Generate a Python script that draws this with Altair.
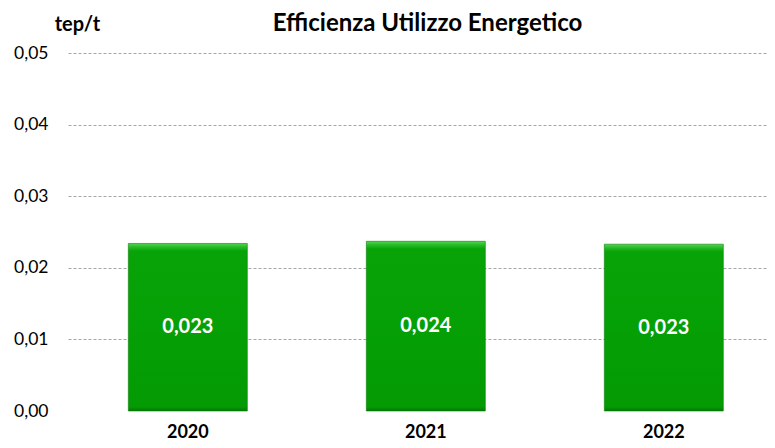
import altair as alt
import pandas as pd

years = ["2020", "2021", "2022"]
values = [0.0234, 0.0237, 0.0233]
y_ticks = [0.0, 0.01, 0.02, 0.03, 0.04, 0.05]

df = pd.DataFrame({"anno": years, "valore": values})

FONT = "Lato"

green = alt.Gradient(
    gradient="linear",
    x1=0, x2=0, y1=0, y2=1,
    stops=[
        alt.GradientStop(color="#4fd64f", offset=0.0),
        alt.GradientStop(color="#22b722", offset=0.025),
        alt.GradientStop(color="#07a307", offset=0.045),
        alt.GradientStop(color="#05a005", offset=0.5),
        alt.GradientStop(color="#049a04", offset=0.975),
        alt.GradientStop(color="#037803", offset=1.0),
    ],
)

x_enc = alt.X(
    "anno:N", sort=years, title=None,
    scale=alt.Scale(paddingInner=0.5, paddingOuter=0.2185, align=0.58),
    axis=alt.Axis(labelAngle=0, domain=False, ticks=False, grid=False, labelFont=FONT,
                  labelFontWeight="bold", labelFontSize=18, labelPadding=12,
                  labelColor="#000000"),
)

y_enc = alt.Y(
    "valore:Q", title="tep/t",
    scale=alt.Scale(domain=[0, 0.05], nice=False, zero=True),
    axis=alt.Axis(
        values=y_ticks,
        labelExpr="replace(format(datum.value, '.2f'), '.', ',')",
        domain=False, ticks=False, labelPadding=20, labelFont=FONT,
        labelFontSize=17.5, labelColor="#000000",
        grid=True, gridDash=[3, 2], gridColor="#a6a6a6", gridWidth=1,
        gridOpacity={"condition": {"test": "datum.value === 0", "value": 0}, "value": 1},
        titleAngle=0, titleAlign="center", titleBaseline="alphabetic",
        titleX=9, titleY=-23, titleFont=FONT, titleFontSize=20,
        titleFontWeight="bold", titleColor="#000000",
    ),
)

bars = alt.Chart(df).mark_bar(color=green, stroke="#0b7d0b", strokeWidth=0.6).encode(
    x=x_enc, y=y_enc
)

text = alt.Chart(df).transform_calculate(
    mid="datum.valore / 2",
    lbl="replace(format(datum.valore, '.3f'), '.', ',')",
).mark_text(font=FONT, fontSize=20, fontWeight="bold", color="white",
            baseline="middle", align="center").encode(
    x=alt.X("anno:N", sort=years),
    y=alt.Y("mid:Q"),
    text="lbl:N",
)

chart = (
    alt.layer(bars, text)
    .properties(
        width=699, height=358,
        view=alt.ViewBackground(stroke="transparent", strokeWidth=0),
        title=alt.TitleParams("Efficienza Utilizzo Energetico", font=FONT,
                              fontSize=24, fontWeight="bold", color="#000000",
                              anchor="middle", frame="group", baseline="alphabetic",
                              offset=0, dx=10, dy=41),
        autosize=alt.AutoSizeParams(type="none"),
        padding={"left": 60, "top": 45, "right": 0, "bottom": 29},
    )
    .configure_axis(domain=False, ticks=False)
    .configure_axisX(domain=False, grid=False)
    .configure_axisY(domain=False)
    .configure_view(strokeWidth=0, stroke="transparent")
    .configure(background="white")
)

chart.save("out.html", embed_options={"renderer": "svg", "actions": False})
